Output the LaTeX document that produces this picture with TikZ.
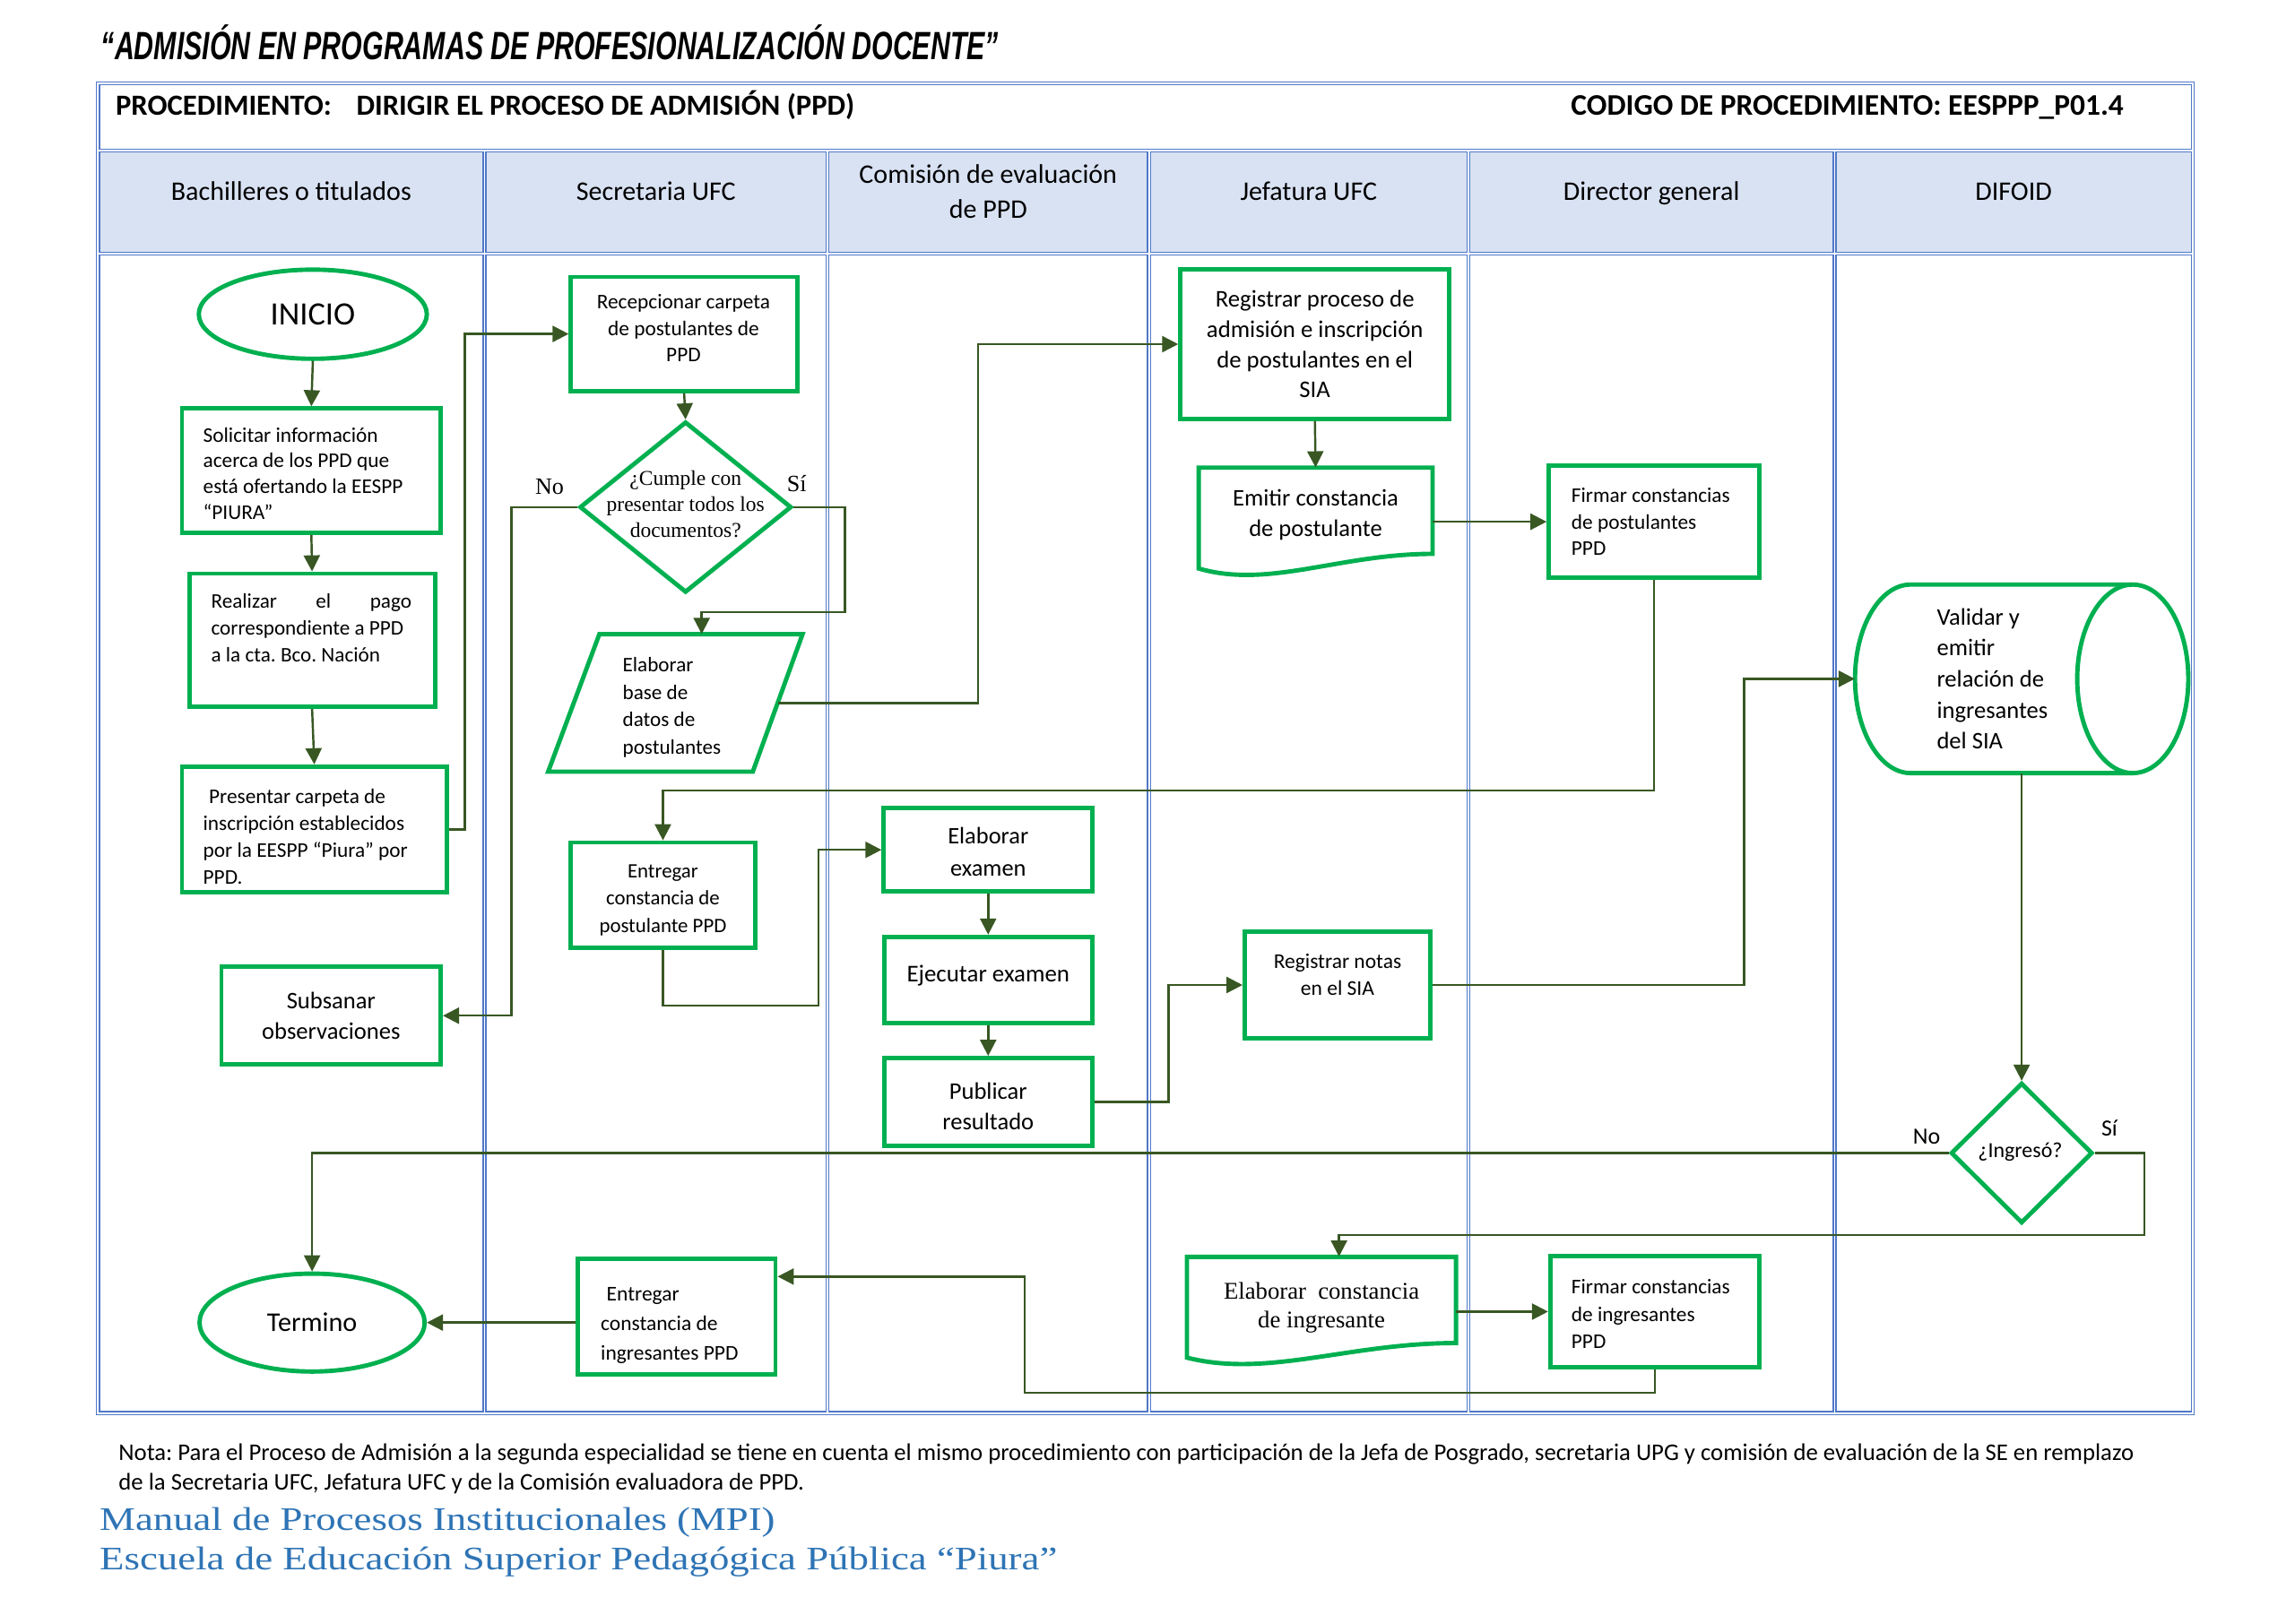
\documentclass[tikz,border=0pt]{standalone}
\usepackage{graphicx}
\usepackage{fontspec}
\setmainfont{Carlito}
\newfontfamily\serifx{Liberation Serif}
\newfontfamily\titlex{Liberation Sans}
\usetikzlibrary{shapes.geometric,arrows.meta,calc}
\definecolor{gbox}{RGB}{0,176,80}
\definecolor{cline}{RGB}{56,87,35}
\definecolor{tblue}{RGB}{80,120,200}
\definecolor{hfill}{RGB}{217,226,243}
\definecolor{fblue}{RGB}{46,116,181}
\newcommand{\myfs}[2]{\fontsize{#1pt}{#2pt}\selectfont}
\begin{document}
\frenchspacing
\begin{tikzpicture}[x=1pt,y=-1pt,
  box/.style={draw=gbox,line width=3pt,rectangle,inner sep=0pt},
  ell/.style={draw=gbox,line width=3pt,ellipse,inner sep=0pt},
  dia/.style={draw=gbox,line width=3pt,diamond,inner sep=0pt},
  gshape/.style={draw=gbox,line width=3pt,line join=miter},
  con/.style={draw=cline,line width=1.5pt,-{Triangle[length=11pt,width=11pt]}},
  cell/.style={draw=tblue,line width=0.9pt},
  lane/.style={inner sep=0pt,font=\myfs{18.4}{24},align=flush center},
  txt/.style={inner sep=0pt}
]
\useasboundingbox (0,0) rectangle (1570,1110.7);
\fill[white] (0,0) rectangle (1570,1110.7);

% ---------- table ----------
\draw[cell] (66,56) rectangle (1501,968);
\draw[cell] (68,58) rectangle (1499,102);
\foreach \a/\b in {67/331.5,331.5/566,566/786,786/1004.5,1004.5/1255,1255/1500} {
  \draw[cell,fill=hfill] (\a+1,104) rectangle (\b-1,172.5);
  \draw[cell] (\a+1,174.5) rectangle (\b-1,966);
}

% ---------- titles ----------
\node[anchor=base west,inner sep=0pt,font=\titlex\bfseries\itshape\myfs{27}{30}] (title) at (69,41)
  {\resizebox{614pt}{\height}{“ADMISIÓN EN PROGRAMAS DE PROFESIONALIZACIÓN DOCENTE”}};
\node[anchor=base west,inner sep=0pt,font=\bfseries\myfs{20}{24}] (proc) at (79,79)
  {PROCEDIMIENTO:\hspace{17pt}DIRIGIR EL PROCESO DE ADMISIÓN (PPD)};
\node[anchor=base east,inner sep=0pt,font=\bfseries\myfs{20.5}{24}] (cod) at (1453,79)
  {CODIGO DE PROCEDIMIENTO: EESPPP\_P01.4};

\node[lane,anchor=base] (h1) at (199.25,137) {Bachilleres o titulados};
\node[lane,anchor=base] (h2) at (448.75,137) {Secretaria UFC};
\node[lane] (h3) at (676,131) {Comisión de evaluación\\de PPD};
\node[lane,anchor=base] (h4) at (895.25,137) {Jefatura UFC};
\node[lane,anchor=base] (h5) at (1129.75,137) {Director general};
\node[lane,anchor=base] (h6) at (1377.5,137) {DIFOID};

% ---------- Bachilleres ----------
\node[ell,minimum width=156pt,minimum height=61pt,font=\myfs{22.3}{26}] (ini) at (214,215) {INICIO};
\node[box,minimum width=177pt,minimum height=85pt,text width=148pt,align=flush left,font=\myfs{14.3}{17.7}] (sol) at (213,322)
  {\rule{0pt}{14pt}Solicitar información\\acerca de los PPD que\\está ofertando la EESPP\\“PIURA”};
\node[box,minimum width=168pt,minimum height=91pt] (rea) at (213.5,438) {};
\node[txt,text width=137pt,align=flush left,font=\myfs{14.2}{18.5}] (reat) at (213,429.5)
  {\leavevmode\hbox to 137pt{Realizar\hfill el\hfill pago}\\correspondiente a PPD\\a la cta. Bco. Nación};
\node[box,minimum width=181pt,minimum height=86pt] (pres) at (215,567.5) {};
\node[txt,text width=152pt,align=flush left,font=\myfs{14.3}{18.3}] (prest) at (215,572.5)
  {\hspace{4pt}Presentar carpeta de\\inscripción establecidos\\por la EESPP “Piura” por\\PPD.};
\node[box,minimum width=150pt,minimum height=67pt,align=flush center,font=\myfs{16.3}{21}] (sub) at (226.5,695)
  {Subsanar\\observaciones};
\node[ell,minimum width=154pt,minimum height=67pt,font=\myfs{18.5}{22}] (ter) at (213.5,905) {Termino};

% ---------- Secretaria ----------
\node[box,minimum width=155pt,minimum height=78pt] (rec) at (468,228.5) {};
\node[txt,align=flush center,font=\myfs{14.3}{18}] (rect) at (467.6,224.5)
  {Recepcionar carpeta\\de postulantes de\\PPD};
\node[dia,minimum width=145pt,minimum height=117pt] (dia1) at (469,347) {};
\node[txt,align=flush center,font=\serifx\myfs{14.4}{18}] (dia1t) at (469,345)
  {¿Cumple con\\presentar todos los\\documentos?};
\node[txt,font=\serifx\myfs{16}{18}] (no1) at (376,333) {No};
\node[txt,font=\serifx\myfs{16}{18}] (si1) at (545,331) {Sí};
\draw[gshape] (410,434) -- (549,434) -- (515,528) -- (375,528) -- cycle;
\node[minimum width=140pt,minimum height=100pt,text width=72pt,align=flush left,inner sep=0pt,font=\myfs{14.2}{18.8}] (par) at (462,484)
  {Elaborar\\base de\\datos de\\postulantes};
\node[box,minimum width=126pt,minimum height=72pt] (ent1) at (453.5,612.5) {};
\node[txt,align=flush center,font=\myfs{14}{18.5}] (ent1t) at (453.5,616)
  {Entregar\\constancia de\\postulante PPD};
\node[box,minimum width=135pt,minimum height=79pt] (ent2) at (463,901) {};
\node[txt,text width=104pt,align=flush left,font=\myfs{14.4}{20}] (ent2t) at (463,907)
  {\hspace{4pt}Entregar\\constancia de\\ingresantes PPD};

% ---------- Comision ----------
\node[box,minimum width=143pt,minimum height=57pt,align=flush center,font=\myfs{16.2}{22}] (elab) at (676,581.5)
  {\rule{0pt}{14pt}Elaborar\\examen};
\node[box,minimum width=142pt,minimum height=59pt,font=\myfs{16.5}{20}] (ejec) at (676,670.5)
  {\raisebox{8.5pt}{Ejecutar examen}};
\node[box,minimum width=142pt,minimum height=60pt] (pub) at (676,754) {};
\node[txt,align=flush center,font=\myfs{16.3}{21}] (pubt) at (676,757) {Publicar\\resultado};

% ---------- Jefatura ----------
\node[box,minimum width=184pt,minimum height=102pt,align=flush center,font=\myfs{16.4}{20.7}] (reg1) at (899.5,235.5)
  {Registrar proceso de\\admisión e inscripción\\de postulantes en el\\SIA};
\node[minimum width=160pt,minimum height=65pt,inner sep=0pt,align=flush center,font=\myfs{16.3}{21}] (emit) at (900,352.5)
  {Emitir constancia\\de postulante};
\draw[gshape] (820,320) -- (980,320) -- (980,379) .. controls (916,379) and (868,403) .. (820,389) -- cycle;
\node[box,minimum width=127pt,minimum height=73pt] (notas) at (915,674) {};
\node[txt,align=flush center,font=\myfs{14.4}{18}] (notast) at (915,667) {Registrar notas\\en el SIA};
\node[minimum width=184pt,minimum height=70pt,inner sep=0pt,align=flush center,font=\serifx\myfs{16.4}{19.5}] (elabc) at (904,895)
  {Elaborar\hspace{4pt} constancia\\de ingresante};
\draw[gshape] (812,860) -- (996,860) -- (996,919) .. controls (922.4,919) and (867.2,943) .. (812,929) -- cycle;

% ---------- Director ----------
\node[box,minimum width=144pt,minimum height=77pt,text width=113pt,align=flush left,font=\myfs{14.3}{18}] (firm1) at (1131.5,357)
  {Firmar constancias\\de postulantes\\PPD};
\node[box,minimum width=143pt,minimum height=76pt,text width=114pt,align=flush left,font=\myfs{14.3}{18.5}] (firm2) at (1132,897.5)
  {\rule{0pt}{13pt}Firmar constancias\\de ingresantes\\PPD};

% ---------- DIFOID ----------
\draw[gshape] (1459,400) -- (1307,400) .. controls (1286,400) and (1269,428.9) .. (1269,464.5)
  .. controls (1269,500.1) and (1286,529) .. (1307,529) -- (1459,529);
\draw[gshape] (1459,464.5) ellipse [x radius=38pt,y radius=64.5pt];
\node[minimum width=228pt,minimum height=129pt,text width=116pt,align=flush left,inner sep=0pt,font=\myfs{16.3}{21.25}] (cyl) at (1383,464.5)
  {Validar y\\emitir\\relación de\\ingresantes\\del SIA};
\node[dia,minimum width=97pt,minimum height=96pt] (dia2) at (1383,789) {};
\node[txt,font=\myfs{14.7}{18}] (dia2t) at (1382,788) {¿Ingresó?};
\node[txt,font=\myfs{15.9}{18}] (no2) at (1318,778) {No};
\node[txt,font=\myfs{15.9}{18}] (si2) at (1443,772) {Sí};

% ---------- connectors ----------
\coordinate (k1) at (701,873.5);
\draw[con] (ini.south) -- (sol.north);
\draw[con] (sol.south) -- (rea.north);
\draw[con] (rea.south) -- (pres.north);
\draw[con] (pres.east) -- ++(11,0) |- (rec.west);
\draw[con] (rec.south) -- (dia1.north);
\draw[con] (dia1.west) -| ([xshift=47pt]sub.east) -- (sub.east);
\draw[con] (dia1.east) -| (578,419) -| ([xshift=18pt]par.north);
\draw[con] ([yshift=3pt]par.east) -- ++(137,0) |- (reg1.west);
\draw[con] (reg1.south) -- (emit.north);
\draw[con] (emit.east |- firm1.west) -- (firm1.west);
\draw[con] (firm1.south) -- ++(0,144) -| (ent1.north);
\draw[con] (ent1.south) |- (560,688) |- (elab.west);
\draw[con] (elab.south) -- (ejec.north);
\draw[con] (ejec.south) -- (pub.north);
\draw[con] (pub.east) -- ++(51,0) |- (notas.west);
\draw[con] (notas.east) -- ++(213,0) |- (cyl.west);
\draw[con] (cyl.south) -- (dia2.north);
\draw[con] (dia2.west) -| (ter.north);
\draw[con] (dia2.east) -| (1467,845) -| ([xshift=12pt]elabc.north);
\draw[con] (elabc.east |- firm2.west) -- (firm2.west);
\draw[con] (firm2.south) -- ++(0,16) -| (k1) -- (ent2.east |- k1);
\draw[con] (ent2.west |- ter.east) -- (ter.east);

% ---------- footer ----------
\node[anchor=north west,inner sep=0pt,align=flush left,font=\myfs{16.4}{20}] (nota) at (81,988)
  {Nota: Para el Proceso de Admisión a la segunda especialidad se tiene en cuenta el mismo procedimiento con participación de la Jefa de Posgrado, secretaria UPG y comisión de evaluación de la SE en remplazo\\de la Secretaria UFC, Jefatura UFC y de la Comisión evaluadora de PPD.};
\node[anchor=base west,inner sep=0pt,text=fblue,font=\serifx\myfs{22.5}{26}] (f1) at (68,1047)
  {\resizebox{462pt}{\height}{Manual de Procesos Institucionales (MPI)}};
\node[anchor=base west,inner sep=0pt,text=fblue,font=\serifx\myfs{22.5}{26}] (f2) at (68,1074)
  {\resizebox{655pt}{\height}{Escuela de Educación Superior Pedagógica Pública “Piura”}};
\end{tikzpicture}
\end{document}
